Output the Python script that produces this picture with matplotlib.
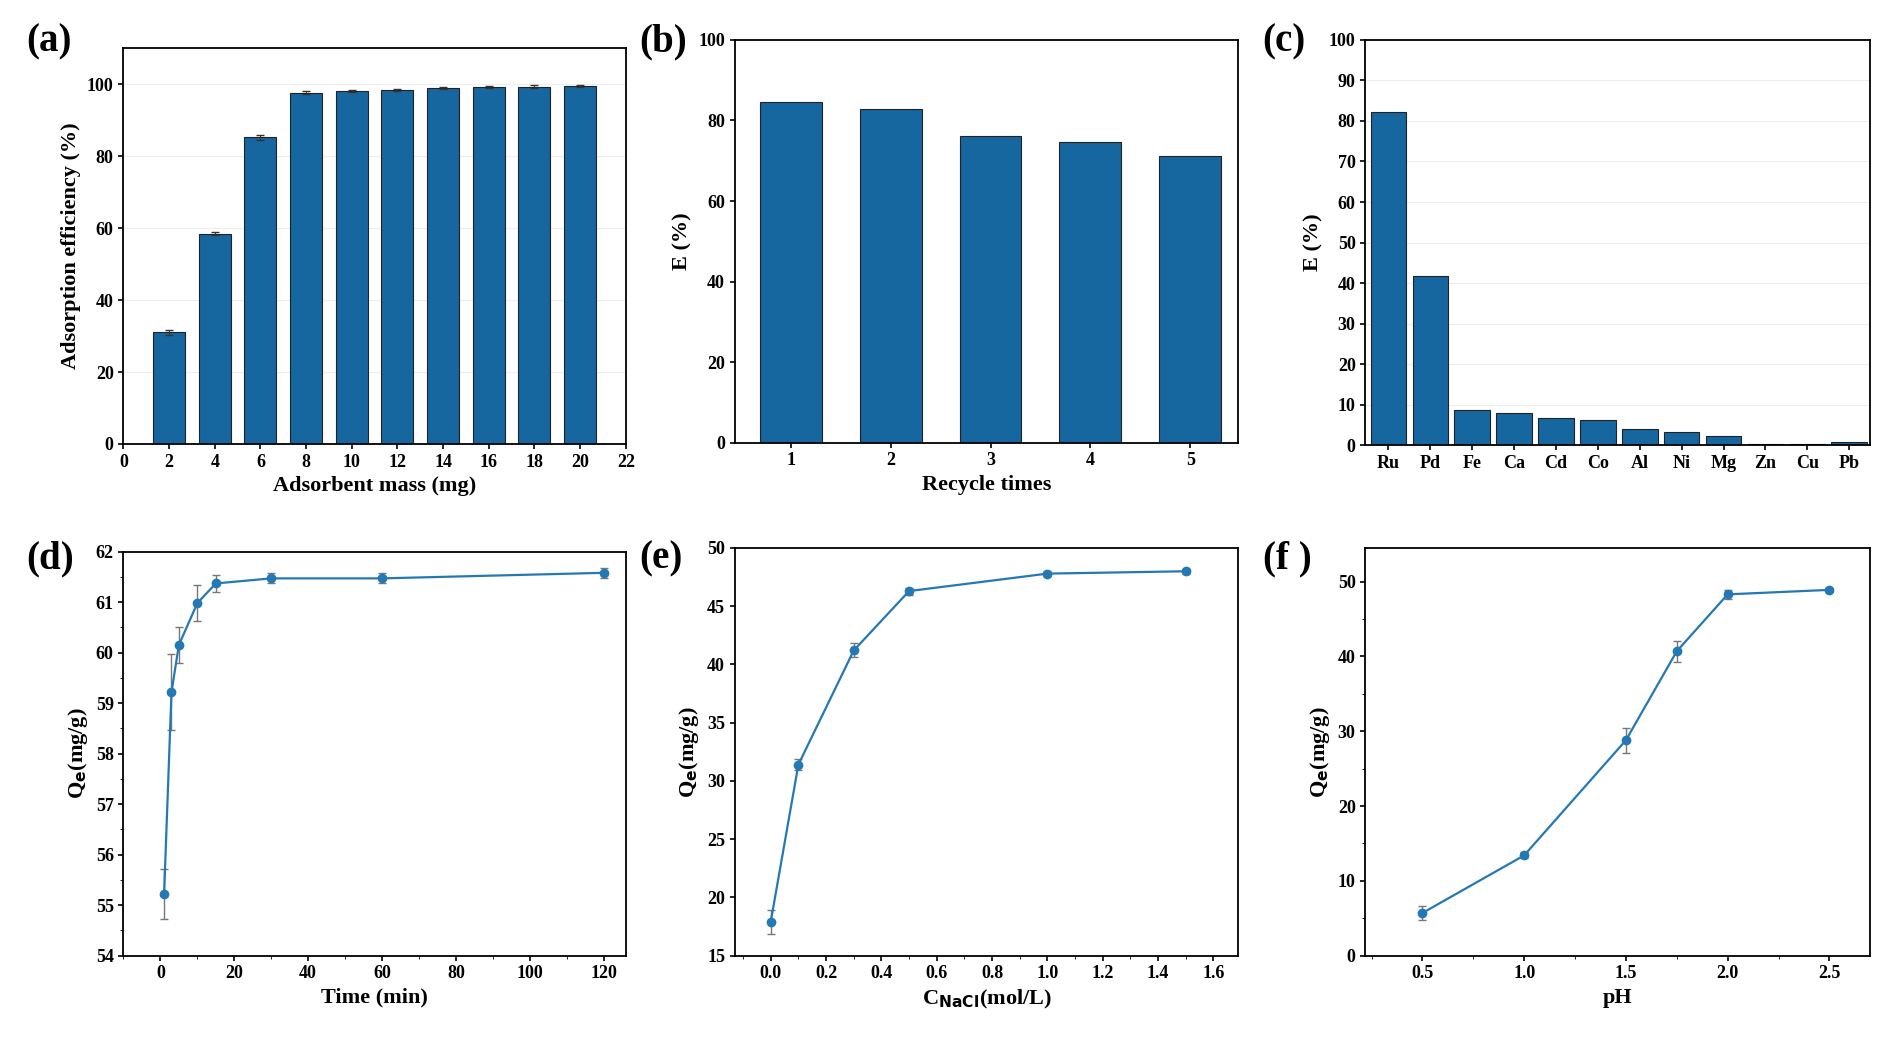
import numpy as np
import matplotlib
matplotlib.use("Agg")
import matplotlib.pyplot as plt

plt.rcParams['font.family'] = ['Liberation Serif', 'DejaVu Serif']
plt.rcParams['font.weight'] = 'bold'
plt.rcParams['axes.labelweight'] = 'bold'
plt.rcParams['font.size'] = 13

# (a)
mass = [2, 4, 6, 8, 10, 12, 14, 16, 18, 20]
eff_a = [31.0, 58.5, 85.3, 97.7, 98.2, 98.5, 99.0, 99.3, 99.4, 99.5]
err_a = [0.7, 0.5, 0.7, 0.4, 0.3, 0.3, 0.3, 0.3, 0.3, 0.3]
# (b)
cycles = [1, 2, 3, 4, 5]
eff_b = [84.5, 82.8, 76.2, 74.7, 71.3]
# (c)
metals = ['Ru', 'Pd', 'Fe', 'Ca', 'Cd', 'Co', 'Al', 'Ni', 'Mg', 'Zn', 'Cu', 'Pb']
eff_c = [82.3, 41.8, 8.7, 7.9, 6.6, 6.2, 4.1, 3.2, 2.3, 0.4, 0.3, 0.8]
# (d)
time_d = [1, 3, 5, 10, 15, 30, 60, 120]
qe_d = [55.22, 59.22, 60.15, 60.98, 61.37, 61.47, 61.47, 61.58]
err_d = [0.5, 0.75, 0.35, 0.35, 0.17, 0.1, 0.1, 0.1]
# (e)
nacl = [0, 0.1, 0.3, 0.5, 1.0, 1.5]
qe_e = [17.9, 31.4, 41.2, 46.3, 47.8, 48.0]
err_e = [1.0, 0.5, 0.6, 0.3, 0.2, 0.2]
# (f)
ph = [0.5, 1.0, 1.5, 1.75, 2.0, 2.5]
qe_f = [5.7, 13.4, 28.8, 40.7, 48.3, 48.9]
err_f = [1.0, 0.4, 1.7, 1.4, 0.6, 0.3]

bar_c = '#16669f'
line_c = '#2479b5'
W, H = 1568, 868

fig = plt.figure(figsize=(18.98, 10.5), dpi=100)

def add_ax(x0, x1, y0, y1):
    return fig.add_axes([x0 / W, 1 - y1 / H, (x1 - x0) / W, (y1 - y0) / H])

axes = [add_ax(102, 517, 40, 367), add_ax(607, 1023, 33, 366), add_ax(1128, 1545, 33, 368),
        add_ax(102, 517, 456, 790), add_ax(607, 1023, 453, 790), add_ax(1128, 1545, 453, 790)]
letters = ['(a)', '(b)', '(c)', '(d)', '(e)', '(f )']
lpos = [(22, 35), (528, 35), (1043, 35), (22, 462), (528, 462), (1043, 462)]

for ax, lt, (lx, ly) in zip(axes, letters, lpos):
    ax.tick_params(direction='out', width=1.2, labelsize=13)
    for s in ax.spines.values():
        s.set_linewidth(1.3)
    fig.text(lx / W, 1 - ly / H, lt, fontsize=28, fontweight='bold', va='center')

ax = axes[0]
ax.bar(mass, eff_a, width=1.4, color=bar_c, edgecolor='#222222', linewidth=0.8,
       yerr=err_a, capsize=3, error_kw=dict(elinewidth=0.8, ecolor='#333333'))
ax.set_xlim(0, 22)
ax.set_ylim(0, 110)
ax.set_xticks(range(0, 23, 2))
ax.set_yticks(range(0, 101, 20))
ax.yaxis.grid(True, color='#eeeeee', linewidth=0.8)
ax.set_axisbelow(True)
ax.set_xlabel('Adsorbent mass (mg)', fontsize=16)
ax.set_ylabel('Adsorption efficiency (%)', fontsize=16)

ax = axes[1]
ax.bar(cycles, eff_b, width=0.62, color=bar_c, edgecolor='#222222', linewidth=0.8)
ax.set_xlim(0.44, 5.48)
ax.set_ylim(0, 100)
ax.set_xticks(cycles)
ax.set_yticks(range(0, 101, 20))
ax.set_xlabel('Recycle times', fontsize=16)
ax.set_ylabel('E (%)', fontsize=16)

ax = axes[2]
ax.bar(range(len(metals)), eff_c, width=0.85, color=bar_c, edgecolor='#222222', linewidth=0.8)
ax.set_xlim(-0.55, 11.5)
ax.set_ylim(0, 100)
ax.set_xticks(range(len(metals)))
ax.set_xticklabels(metals)
ax.set_yticks(range(0, 101, 10))
ax.yaxis.grid(True, color='#eeeeee', linewidth=0.8)
ax.set_axisbelow(True)
ax.set_ylabel('E (%)', fontsize=16)

def line_panel(ax, x, y, e):
    ax.errorbar(x, y, yerr=e, color=line_c, marker='o', markersize=6, linewidth=1.6,
                ecolor='#777777', elinewidth=1, capsize=3)

ax = axes[3]
line_panel(ax, time_d, qe_d, err_d)
ax.set_xlim(-10, 126)
ax.set_ylim(54, 62)
ax.set_xticks(range(0, 121, 20))
ax.set_xticks(range(-10, 126, 10), minor=True)
ax.set_yticks(range(54, 63))
ax.set_yticks(np.arange(54, 62, 0.5), minor=True)
ax.set_xlabel('Time (min)', fontsize=16)
ax.set_ylabel('Q$_\\mathbf{e}$(mg/g)', fontsize=16)

ax = axes[4]
line_panel(ax, nacl, qe_e, err_e)
ax.set_xlim(-0.13, 1.69)
ax.set_ylim(15, 50)
ax.set_xticks(np.arange(0, 1.61, 0.2))
ax.set_xticklabels([f'{v:.1f}' for v in np.arange(0, 1.61, 0.2)])
ax.set_xticks(np.arange(-0.1, 1.65, 0.1), minor=True)
ax.set_yticks(range(15, 51, 5))
ax.set_xlabel('C$_\\mathbf{NaCl}$(mol/L)', fontsize=16)
ax.set_ylabel('Q$_\\mathbf{e}$(mg/g)', fontsize=16)

ax = axes[5]
line_panel(ax, ph, qe_f, err_f)
ax.set_xlim(0.22, 2.7)
ax.set_ylim(0, 54.5)
ax.set_xticks([0.5, 1.0, 1.5, 2.0, 2.5])
ax.set_xticks(np.arange(0.25, 2.7, 0.25), minor=True)
ax.set_yticks(range(0, 51, 10))
ax.set_yticks(range(5, 55, 10), minor=True)
ax.set_xlabel('pH', fontsize=16)
ax.set_ylabel('Q$_\\mathbf{e}$(mg/g)', fontsize=16)

fig.savefig('out.png', dpi=100)
